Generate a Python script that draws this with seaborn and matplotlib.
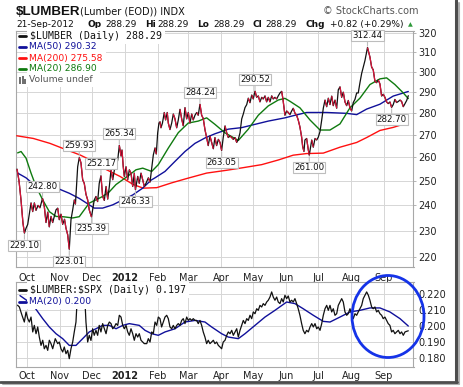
import numpy as np
import pandas as pd
import matplotlib
matplotlib.use("Agg")
import matplotlib.pyplot as plt
import matplotlib.dates as mdates
from matplotlib.collections import LineCollection
from matplotlib.lines import Line2D
from matplotlib.patches import Ellipse, Rectangle
from matplotlib.ticker import FixedLocator, FixedFormatter, NullLocator
import seaborn as sns

# ---------------- data (days counted from 2011-10-01) ----------------
START = pd.Timestamp("2011-10-01")

price_day = [-9.4, -7.5, -5.6, -3.8, -2.4, -0.9, 0.7, 2.2, 3.8, 5.4,
             6.9, 8.5, 10.4, 12.2, 14.6, 16.3, 17.9, 19.5, 21.0, 22.6,
             24.2, 25.9, 27.3, 28.9, 30.4, 32.0, 33.6, 35.3, 36.7, 38.3,
             39.8, 41.4, 43.0, 44.5, 45.6, 47.7, 49.2, 50.8, 52.4, 53.9,
             55.5, 57.1, 58.6, 60.7, 63.3, 64.9, 66.5, 68.0, 69.6, 71.2,
             72.8, 74.4, 76.0, 77.5, 79.1, 80.7, 82.2, 83.8, 85.4, 86.9,
             88.5, 89.4, 90.6, 91.6, 93.2, 94.8, 96.3, 97.9, 99.5, 101.0,
             102.1, 104.2, 105.7, 107.3, 108.9, 110.4, 112.0, 114.2, 115.8, 117.4,
             118.9, 120.5, 121.7, 123.0, 124.2, 125.2, 126.1, 127.5, 129.2, 130.5,
             132.0, 133.0, 134.6, 136.2, 137.7, 139.3, 140.9, 142.4, 144.0, 145.6,
             147.1, 148.7, 150.3, 151.8, 153.4, 155.0, 156.5, 158.1, 159.7, 161.2,
             162.8, 164.4, 165.9, 167.5, 169.1, 170.6, 172.2, 173.8, 175.4, 176.9,
             178.5, 180.1, 181.7, 183.2, 184.7, 186.4, 188.0, 189.5, 191.1, 192.7,
             194.2, 195.8, 197.4, 198.9, 200.5, 202.1, 203.6, 205.2, 206.8, 208.3,
             209.9, 211.5, 213.0, 214.6, 216.2, 217.7, 219.3, 220.9, 222.4, 224.0,
             225.6, 227.1, 228.7, 230.3, 231.8, 233.4, 235.0, 236.5, 238.1, 239.7,
             240.9, 242.8, 244.4, 245.9, 247.5, 249.1, 250.6, 252.2, 253.8, 255.3,
             256.9, 258.5, 259.5, 260.7, 261.6, 263.2, 264.8, 265.7, 268.0, 269.5,
             271.1, 272.7, 274.2, 275.8, 277.4, 278.9, 280.5, 282.1, 283.6, 285.2,
             286.8, 288.3, 289.9, 291.5, 293.0, 294.6, 296.2, 297.7, 299.3, 300.9,
             302.4, 304.0, 305.6, 307.1, 308.7, 310.3, 311.8, 313.4, 315.0, 316.5,
             318.1, 320.5, 322.8, 324.4, 325.9, 327.5, 329.1, 330.6, 332.2, 333.8,
             335.3, 336.9, 338.5, 340.0, 341.6, 343.2, 344.7, 346.3, 347.9, 349.5,
             351.1, 352.6, 354.2, 355.8, 357.4, 358.9]
price_close = [255, 250, 242, 233, 229.10, 231, 232.5, 236.5, 241, 237.5,
               241, 238, 240, 239, 242.80, 239.5, 233.2, 237.3, 231.5, 235.6,
               233.2, 236, 238.2, 238.9, 234.3, 236.5, 232.5, 234.5, 231, 228.5,
               223.01, 234.3, 238.2, 242.2, 240.5, 256, 259.93, 257.7, 250.5, 249,
               244.5, 242.2, 238.2, 235.39, 242.2, 243.6, 241.5, 249, 252.17, 243.6,
               242, 247.7, 242.5, 247.7, 254.7, 250.5, 254.5, 256, 258.9, 265.34,
               260.6, 263.3, 256, 251.9, 256, 250.5, 254.7, 253.3, 247.7, 253.3,
               246.33, 251.9, 249, 253.3, 250.5, 247.7, 249, 251.3, 249.5, 255.5,
               261.1, 264.2, 261.5, 270.9, 275.4, 276, 273.2, 275.4, 280.3, 276.8,
               280.3, 275.4, 272.4, 275.4, 279.6, 277.3, 273.2, 276.8, 281.8, 277.3,
               274.1, 282.6, 277.3, 280.3, 275.4, 279.6, 276.8, 279, 280.3, 279,
               284.24, 279, 277.5, 272.4, 268.8, 265.2, 269.5, 266.6, 263.8, 268.8,
               265.2, 268, 266.6, 263.05, 268.8, 274.1, 270.9, 268.8, 269.5, 268.8,
               268, 268.8, 266.6, 268, 270.9, 277.3, 279.6, 282.6, 284, 287.1,
               284.9, 288.6, 286.7, 290.52, 287.5, 288.2, 285.3, 287.5, 286.7, 288.2,
               285.3, 287.5, 285.3, 288.2, 286.7, 287.5, 286.7, 288.2, 289.6, 290.4,
               286.7, 279, 281, 280.3, 279.3, 281, 282.3, 280, 279, 276.8,
               273.6, 269, 264.7, 262.6, 267.7, 268.4, 263.3, 261.00, 267.7, 264.5,
               268.4, 267.7, 269, 271.5, 276.8, 282.3, 286.2, 283, 287.1, 284,
               288.1, 283.5, 286.2, 282.3, 291.1, 292.6, 287.5, 290, 285.3, 283.5,
               286, 282.5, 281, 285, 286.5, 289.6, 289.6, 294.6, 299.2, 302.4,
               305.7, 312.44, 307.5, 302.4, 301, 295.3, 294.6, 296, 294, 288.1,
               289, 287.5, 285.3, 284.5, 285.3, 282.70, 284, 286.5, 285, 285.5,
               286.2, 285.5, 283, 284.5, 286, 288.29]

ma50_day = [-8.8, -0.9, 8.5, 17.9, 30.4, 39.8, 49.2, 58.6, 63.3, 71.2, 80.7, 90.1,
            99.5, 108.9, 116.7, 120.5, 129.9, 139.3, 148.7, 158.1, 167.5, 176.9,
            189.5, 202.1, 214.6, 227.1, 242.8, 250.6, 263.2, 282.1, 300.9, 310.3,
            319.7, 332.2, 344.7, 358.9]
ma50_val = [253.3, 251.3, 247.7, 246.3, 246.6, 244.9, 242.8, 240.2, 238.9, 238.9,
            240.2, 242.2, 244.2, 247.0, 250.3, 251.3, 254.0, 258.3, 262.6, 266.2,
            268.6, 270.5, 272.6, 273.3, 274.8, 276.3, 277.8, 278.8, 280.3, 280.3,
            279.9, 279.3, 281.9, 284.2, 288.1, 290.32]

ma200_day = [-9.7, 5.9, 21.6, 37.4, 49.9, 62.4, 75.0, 87.5, 100.0, 109.5, 122.1,
             136.2, 150.3, 169.1, 188.0, 202.1, 220.9, 236.5, 250.6, 263.2, 278.9,
             294.6, 310.3, 319.7, 332.2, 344.7, 358.9]
ma200_val = [269.6, 268.4, 266.2, 263.3, 261.1, 258.3, 254.7, 251.9, 248.5, 247.0,
             247.2, 249.2, 251.0, 253.3, 254.5, 255.5, 256.9, 258.9, 261.0, 261.7,
             261.9, 264.5, 266.6, 268.8, 272.0, 273.4, 275.58]

ma20_day = [-8.8, -5.6, -0.9, 3.8, 8.5, 14.8, 21.0, 27.3, 33.6, 43.0,
            49.2, 53.9, 58.6, 64.9, 71.2, 77.5, 83.8, 90.1, 96.3, 102.6,
            108.9, 117.4, 123.6, 133.0, 142.4, 151.8, 161.2, 169.1, 176.9, 186.4,
            194.2, 198.9, 208.3, 217.7, 227.1, 236.5, 242.8, 247.5, 256.9, 266.4,
            275.8, 285.2, 294.6, 304.0, 313.4, 322.8, 332.2, 338.5, 346.3, 354.2,
            358.9]
ma20_val = [262.0, 262.6, 259.7, 253.3, 247.7, 242.2, 237.5, 235.6, 235.5, 235.0,
            235.5, 238.2, 240.9, 242.2, 243.6, 245.5, 248.5, 250.5, 252.5, 254.7,
            255.4, 254.0, 256.9, 264.1, 271.0, 275.4, 276.3, 277.8, 274.8, 270.9,
            268.8, 267.5, 272.6, 279.0, 283.4, 286.2, 287.0, 285.6, 282.5, 276.8,
            272.2, 272.2, 275.0, 282.5, 287.1, 293.7, 296.5, 297.0, 293.7, 289.6,
            286.9]

ratio_day = [-8.9, -7.2, -4.7, -2.5, -0.9, 0.7, 2.2, 3.8, 5.4, 6.9,
             8.5, 10.1, 11.6, 13.2, 14.8, 16.3, 17.9, 19.5, 21.0, 22.6,
             24.2, 26.6, 28.9, 30.4, 32.0, 33.6, 35.1, 36.7, 38.3, 39.8,
             41.4, 43.0, 44.5, 46.1, 47.1, 48.7, 50.8, 52.7, 54.6, 55.5,
             57.1, 58.6, 60.2, 61.8, 63.3, 64.9, 66.5, 68.0, 69.6, 71.2,
             72.8, 74.4, 76.0, 77.5, 79.1, 80.7, 82.2, 83.8, 85.4, 86.9,
             88.5, 90.1, 91.6, 93.2, 94.8, 96.3, 97.9, 99.5, 101.0, 102.6,
             104.2, 105.7, 107.3, 108.9, 110.4,
             112.7, 114.2, 115.8, 117.4, 118.9, 120.5, 122.1, 123.6, 125.2, 126.7,
             128.3, 129.9, 131.5, 133.0, 134.6, 136.2, 137.7, 139.3, 140.9, 142.4,
             144.0, 145.6, 147.1, 148.7, 150.3, 151.8, 153.4, 155.0, 156.5, 158.1,
             159.7, 161.2, 162.8, 164.4, 165.9, 167.5, 169.1, 170.6, 172.2, 173.8,
             175.4, 176.9, 178.5, 180.1, 181.7, 183.2, 184.7, 186.4, 188.0, 189.5,
             191.1, 192.7, 194.2, 195.8, 197.4, 198.9, 200.5, 202.1, 203.6, 205.2,
             206.8, 208.3, 209.9, 211.5, 213.0, 214.6, 216.2, 217.7, 219.3, 220.9,
             222.4, 224.0, 225.6, 227.1, 228.7, 230.3, 231.8, 233.4, 235.0, 236.5,
             238.1, 239.7, 241.2,
             242.8, 244.4, 245.9, 247.5, 249.1, 250.6, 252.2, 253.8, 255.3, 256.9,
             258.5, 260.0, 261.6, 263.2, 264.8, 266.4, 268.0, 269.5, 271.1, 272.7,
             274.2, 275.8, 277.4, 278.9, 280.5, 282.1, 283.6, 285.2, 286.8, 288.3,
             289.9, 291.5, 293.0, 294.6, 296.2, 297.7, 299.3, 300.9, 302.4, 304.0,
             305.6, 307.1, 308.7, 310.3, 311.8, 313.4, 315.0, 316.5, 318.1, 319.7,
             321.3, 322.8, 324.4, 325.9, 327.5, 329.1, 330.6, 332.2, 333.8, 335.3,
             336.9, 338.5, 340.0, 341.6, 343.2, 344.7, 346.3, 347.9, 349.5, 351.1,
             352.6, 354.2, 355.8, 357.4, 358.9]
ratio_val = [0.2130, 0.2119, 0.2067, 0.2025, 0.2088, 0.2046, 0.2025, 0.2056, 0.1963, 0.2004,
             0.1952, 0.1994, 0.1931, 0.1879, 0.1911, 0.1858, 0.1879, 0.1848, 0.1911, 0.1890,
             0.1858, 0.1921, 0.1890, 0.1900, 0.1858, 0.1838, 0.1869, 0.1827, 0.1848, 0.1796,
             0.1858, 0.1900, 0.1963, 0.2025, 0.2150, 0.2240, 0.2190, 0.2250, 0.2150, 0.2025,
             0.1900, 0.1942, 0.1910, 0.1983, 0.1942, 0.1973, 0.1942, 0.2004, 0.1963, 0.2015,
             0.1983, 0.1952, 0.2004, 0.2025, 0.2015, 0.1983, 0.1994, 0.2015, 0.2004, 0.2067,
             0.2056, 0.2004, 0.1983, 0.2004, 0.1963, 0.1942, 0.1983, 0.1952, 0.1911, 0.1952,
             0.1931, 0.1952, 0.1911, 0.1900, 0.1890,
             0.1890, 0.1921, 0.1900, 0.1963, 0.1952, 0.2025, 0.2004, 0.2056, 0.2046, 0.1994,
             0.2025, 0.2056, 0.2067, 0.2046, 0.1994, 0.1983, 0.2004, 0.1983, 0.2004, 0.2015,
             0.2004, 0.2035, 0.2046, 0.2015, 0.2056, 0.2035, 0.2046, 0.2035, 0.2046, 0.2035,
             0.2035, 0.2015, 0.2035, 0.2004, 0.1963, 0.1931, 0.1890, 0.1911, 0.1890, 0.1900,
             0.1911, 0.1890, 0.1900, 0.1879, 0.1869, 0.1858, 0.1900, 0.1911, 0.1942, 0.1963,
             0.1952, 0.1973, 0.1942, 0.1963, 0.1983, 0.1931, 0.1973, 0.2004, 0.2035, 0.2015,
             0.2046, 0.2035, 0.2067, 0.2046, 0.2088, 0.2077, 0.2108, 0.2098, 0.2129, 0.2119,
             0.2140, 0.2129, 0.2150, 0.2161, 0.2181, 0.2213, 0.2181, 0.2161, 0.2181, 0.2150,
             0.2140, 0.2171, 0.2150,
             0.2192, 0.2171, 0.2188, 0.2150, 0.2161, 0.2150, 0.2171, 0.2140, 0.2108, 0.2067,
             0.2015, 0.1973, 0.1952, 0.1973, 0.1963, 0.1994, 0.2015, 0.1994, 0.2015, 0.1983,
             0.1994, 0.1973, 0.2015, 0.2067, 0.2108, 0.2129, 0.2098, 0.2129, 0.2088, 0.2108,
             0.2067, 0.2077, 0.2129, 0.2150, 0.2171, 0.2150, 0.2088, 0.2067, 0.2077, 0.2108,
             0.2077, 0.2046, 0.2077, 0.2067, 0.2088, 0.2108, 0.2129, 0.2171, 0.2192, 0.2213,
             0.2192, 0.2161, 0.2119, 0.2108, 0.2119, 0.2088, 0.2098, 0.2077, 0.2067, 0.2046,
             0.2056, 0.2035, 0.2015, 0.2004, 0.1963, 0.1973, 0.1952, 0.1963, 0.1973, 0.1952,
             0.1963, 0.1942, 0.1963, 0.1967, 0.1970]

ratio_ma_day = [-6.6, 0.9, 6.9, 14.8, 21.0, 27.3, 33.6, 39.8, 46.1, 52.4,
                58.6, 64.9, 71.2, 77.5, 83.8, 90.1, 96.3, 105.7, 111.1, 117.4,
                123.6, 129.9, 139.3, 148.7, 158.1, 167.5, 173.8, 183.2, 189.5, 198.9,
                205.2, 214.6, 224.0, 233.4, 244.4, 252.2, 260.0, 269.5, 278.9, 285.2,
                294.6, 304.0, 313.4, 322.8, 332.2, 341.6, 351.1, 358.9]
ratio_ma_val = [0.2190, 0.2155, 0.2119, 0.2046, 0.1994, 0.1952, 0.1921, 0.1879, 0.1879, 0.1921,
                0.1963, 0.1983, 0.2004, 0.2004, 0.1983, 0.2004, 0.2015, 0.2004, 0.1973, 0.1952,
                0.1942, 0.1963, 0.1983, 0.2025, 0.2035, 0.2025, 0.1994, 0.1952, 0.1931, 0.1921,
                0.1952, 0.2004, 0.2056, 0.2098, 0.2150, 0.2140, 0.2108, 0.2067, 0.2029, 0.2025,
                0.2056, 0.2088, 0.2098, 0.2113, 0.2113, 0.2088, 0.2046, 0.2000]

# labelled highs / lows on the price line
ann_values = [229.10, 242.80, 223.01, 259.93, 235.39, 252.17, 265.34, 246.33,
              284.24, 263.05, 290.52, 261.00, 312.44, 282.70]
ann_above = [False, True, False, True, False, True, True, False,
             True, False, True, False, True, False]

price_ticks = [220, 230, 240, 250, 260, 270, 280, 290, 300, 310, 320]
ratio_ticks = [0.180, 0.190, 0.200, 0.210, 0.220]
month_labels = ["Oct", "Nov", "Dec", "2012", "Feb", "Mar", "Apr", "May", "Jun",
                "Jul", "Aug", "Sep"]

# ---------------- styling ----------------
sns.set_theme(style="white")
plt.rcParams["font.family"] = ["DejaVu Sans"]

W, H = 464, 387
fig = plt.figure(figsize=(W / 100, H / 100), dpi=100)
fig.patch.set_facecolor("white")


def fx(px):
    return px / W


def fy(py):
    return 1 - py / H


def rect(l, t, r, b):
    return [fx(l), fy(b), (r - l) / W, (b - t) / H]


def dates(days):
    return START + pd.to_timedelta(np.asarray(days, dtype=float), unit="D")


GRID = "#d6d6d6"
SPINE = "#a8a8a8"
BLACK = "#111111"
DOWN = "#d9143a"
NAVY = "#10109a"
RED = "#ff1010"
GREEN = "#0f7a0f"

ax1 = fig.add_axes(rect(16, 31, 413.5, 267))
ax2 = fig.add_axes(rect(16, 282, 413.5, 367))

# ---- top panel ----
sns.lineplot(x=dates(ma200_day), y=ma200_val, ax=ax1, color=RED, lw=1.0,
             estimator=None, sort=False, legend=False, zorder=3)
sns.lineplot(x=dates(ma50_day), y=ma50_val, ax=ax1, color=NAVY, lw=1.0,
             estimator=None, sort=False, legend=False, zorder=3)
sns.lineplot(x=dates(ma20_day), y=ma20_val, ax=ax1, color=GREEN, lw=1.0,
             estimator=None, sort=False, legend=False, zorder=3)
pdates = dates(price_day)
sns.lineplot(x=pdates, y=price_close, ax=ax1, color=BLACK, lw=0.9,
             estimator=None, sort=False, legend=False, zorder=4)
xs = mdates.date2num(pdates.to_pydatetime())
ys = np.asarray(price_close, dtype=float)
down_segs = [[(xs[i], ys[i]), (xs[i + 1], ys[i + 1])]
             for i in range(len(xs) - 1) if ys[i + 1] < ys[i]]
ax1.add_collection(LineCollection(down_segs, colors=DOWN, linewidths=0.9, zorder=5))

ax1.set_yscale("log")
ax1.set_ylim(216.5, 321.2)

for v, up in zip(ann_values, ann_above):
    i = price_close.index(v)
    ax1.annotate(f"{v:.2f}", xy=(pdates[i], v), xytext=(0, 8.6 if up else -8.6),
                 textcoords="offset points", ha="center", va="center",
                 fontsize=6.2, color="#111111", zorder=8,
                 bbox=dict(boxstyle="square,pad=0.12", fc="white", ec="#bdbdbd", lw=0.8),
                 arrowprops=dict(arrowstyle="-", color="#bdbdbd", lw=0.8,
                                 shrinkA=0, shrinkB=1))

# ---- bottom panel ----
sns.lineplot(x=dates(ratio_ma_day), y=ratio_ma_val, ax=ax2, color=NAVY, lw=1.0,
             estimator=None, sort=False, legend=False, zorder=3)
sns.lineplot(x=dates(ratio_day), y=ratio_val, ax=ax2, color=BLACK, lw=0.9,
             estimator=None, sort=False, legend=False, zorder=4)
ax2.set_ylim(0.1744, 0.2275)

# ---- common axis formatting ----
month_starts = pd.date_range("2011-10-01", "2012-09-01", freq="MS")
for ax, yt, fmt, lpad in ((ax1, price_ticks, "{:d}", 4.3), (ax2, ratio_ticks, "{:.3f}", 2.8)):
    ax.set_xlim(dates([-10.35])[0], dates([363.8])[0])
    ax.yaxis.set_major_locator(FixedLocator(yt))
    ax.yaxis.set_major_formatter(FixedFormatter([fmt.format(t) for t in yt]))
    ax.yaxis.set_minor_locator(NullLocator())
    ax.yaxis.tick_right()
    ax.set_xticks(mdates.date2num(month_starts.to_pydatetime()))
    ax.set_xticklabels(month_labels)
    ax.xaxis.set_minor_locator(NullLocator())
    ax.tick_params(axis="y", which="major", right=True, left=False, length=2,
                   width=0.6, color=SPINE, pad=1.5, labelsize=7, labelcolor="#222222")
    ax.tick_params(axis="x", which="major", bottom=False, length=0, pad=lpad,
                   labelsize=7, labelcolor="#222222")
    for t in ax.get_xticklabels():
        if t.get_text() == "2012":
            t.set_fontweight("bold")
    ax.grid(True, which="major", color=GRID, lw=0.7)
    ax.set_axisbelow(True)
    ax.set_xlabel("")
    ax.set_ylabel("")
    ax.set_facecolor("white")
    for s in ax.spines.values():
        s.set_color(SPINE)
        s.set_linewidth(0.8)
        s.set_visible(True)

# ---- legends (manual, StockCharts style) ----
def legend_row(y, text, color, handle="line", family="DejaVu Sans", size=6.6, tx=29.5):
    if handle == "line":
        fig.add_artist(Line2D([fx(19.5), fx(26.5)], [fy(y), fy(y)], color=color, lw=2.0,
                              transform=fig.transFigure, zorder=22))
    elif handle == "bars":
        for bx, bh in ((19.5, 6), (22, 8), (24.5, 5)):
            fig.add_artist(Rectangle((fx(bx), fy(y + 3.5)), 2 / W, bh / H, fc="#707070",
                                     ec="none", transform=fig.transFigure, zorder=22))
    fig.text(fx(tx), fy(y), text, color=color, fontsize=size, family=family,
             ha="left", va="center", zorder=21, parse_math=False,
             bbox=dict(boxstyle="square,pad=0.3", fc="white", ec="none"))

legend_row(35.7, "$LUMBER (Daily) 288.29", BLACK, family="DejaVu Sans Mono", size=7.1, tx=30)
legend_row(47.0, "MA(50) 290.32", NAVY)
legend_row(58.0, "MA(200) 275.58", RED)
legend_row(69.0, "MA(20) 286.90", GREEN)
legend_row(80.0, "Volume undef", "#555555", handle="bars")

legend_row(290.0, "$LUMBER:$SPX (Daily) 0.197", BLACK, family="DejaVu Sans Mono", size=7.1, tx=30)
legend_row(301.5, "MA(20) 0.200", NAVY)

# ---- header ----
fig.text(fx(16), fy(15), "$LUMBER", fontsize=9.6, fontweight="bold", parse_math=False,
         family="Liberation Sans", ha="left", va="baseline", color="#111111")
fig.text(fx(80), fy(14.2), "(Lumber (EOD)) INDX", fontsize=7, ha="left",
         va="baseline", color="#111111", parse_math=False)
fig.text(fx(323), fy(14.2), "\u00a9 StockCharts.com", fontsize=7, ha="left",
         va="baseline", color="#555555", parse_math=False)
header2 = [("21-Sep-2012", 16, "normal"), ("Op", 88, "bold"), ("288.29", 105, "normal"),
           ("Hi", 145, "bold"), ("288.29", 157.5, "normal"), ("Lo", 197, "bold"),
           ("288.29", 213, "normal"), ("Cl", 253, "bold"), ("288.29", 265, "normal"),
           ("Chg", 306, "bold"), ("+0.82 (+0.29%)", 330, "normal")]
for txt, px, wgt in header2:
    fig.text(fx(px), fy(27), txt, fontsize=6.5, fontweight=wgt, ha="left",
             va="baseline", color="#111111", parse_math=False)
fig.text(fx(410.5), fy(24.5), "\u25b2", fontsize=4.5, ha="center", va="center",
         color="#2e9a3a")

# ---- hand-drawn highlight circle ----
fig.add_artist(Ellipse((fx(388), fy(316.5)), 72 / W, 82 / H, transform=fig.transFigure,
                       fill=False, ec="#1533e8", lw=2.0, zorder=30))

# ---- picture frame with shadow (right and bottom edges) ----
fig.add_artist(Line2D([fx(456.5), fx(456.5)], [fy(0), fy(382)], color="#4d4d4d", lw=2.2,
                      transform=fig.transFigure, zorder=40))
fig.add_artist(Line2D([fx(0), fx(457.5)], [fy(381.5), fy(381.5)], color="#4d4d4d", lw=2.0,
                      transform=fig.transFigure, zorder=40))
fig.add_artist(Line2D([fx(459), fx(459)], [fy(3), fy(384)], color="#b0b0b0", lw=1.5,
                      transform=fig.transFigure, zorder=39))
fig.add_artist(Line2D([fx(3), fx(459)], [fy(384), fy(384)], color="#b0b0b0", lw=1.5,
                      transform=fig.transFigure, zorder=39))

fig.savefig("out.png", dpi=100, facecolor="white")
